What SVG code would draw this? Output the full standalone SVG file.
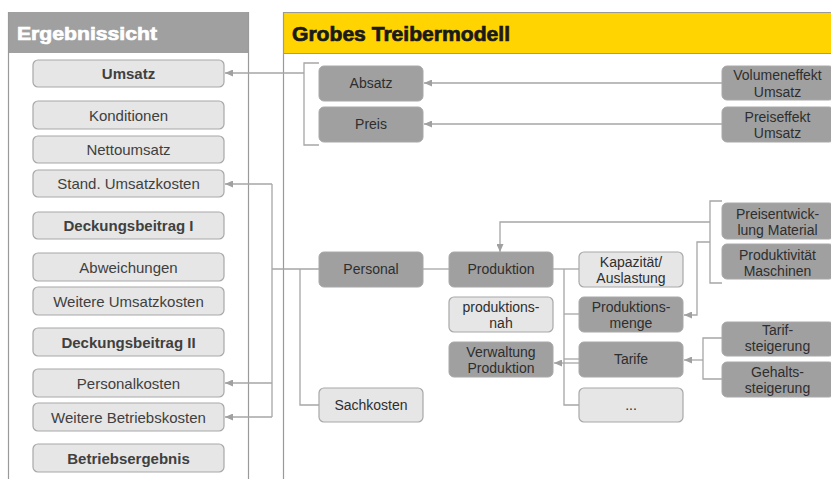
<svg xmlns="http://www.w3.org/2000/svg" width="831" height="479" viewBox="0 0 831 479">
<defs>
<style>
.pl{stroke:#9a9a9a;stroke-width:1.2;fill:none}
.lb{fill:#e6e6e6;stroke:#a8a8a8;stroke-width:1.2}
.db{fill:#a0a0a0;stroke:#a8a8a8;stroke-width:1}
.t{font-family:"Liberation Sans",Arial,sans-serif;text-anchor:middle;fill:#404040}
.l15{font-size:15px}
.s{font-size:14px;fill:#2e2e2e}
.b{font-weight:bold}
.c{stroke:#a6a6a6;stroke-width:1.3;fill:none}
.ca{stroke:#a6a6a6;stroke-width:1.3;fill:none;marker-end:url(#ah)}
.h{font-family:"Liberation Sans",Arial,sans-serif;font-weight:bold;stroke-width:0.7}
</style>
<marker id="ah" markerUnits="userSpaceOnUse" markerWidth="8" markerHeight="7" refX="8" refY="3.5" orient="auto">
<path d="M0,0 L8,3.5 L0,7 z" fill="#a0a0a0"/>
</marker>
</defs>
<rect width="831" height="479" fill="#ffffff"/>
<g id="panel-left">
<rect x="8" y="12" width="240" height="41" fill="#a0a0a0"/>
<line class="pl" x1="8.5" y1="12" x2="8.5" y2="479"/>
<line class="pl" x1="248.5" y1="12" x2="248.5" y2="479"/>
<text class="h" x="17" y="40" font-size="19" fill="#ffffff" stroke="#ffffff" textLength="140" lengthAdjust="spacingAndGlyphs">Ergebnissicht</text>
</g>
<g id="panel-right">
<rect x="283" y="12" width="548" height="41" fill="#ffd400"/>
<line class="pl" x1="283" y1="12.5" x2="831" y2="12.5"/>
<line class="pl" x1="283" y1="53.5" x2="831" y2="53.5"/>
<line class="pl" x1="283.5" y1="12" x2="283.5" y2="479"/>
<text class="h" x="292" y="41" font-size="20" fill="#1a1a1a" stroke="#1a1a1a" textLength="218" lengthAdjust="spacingAndGlyphs">Grobes Treibermodell</text>
</g>
<g id="connectors">
<path class="c" d="M319,63 H304 V145 H319"/>
<path class="ca" d="M304,73 H225"/>
<path class="ca" d="M722,83 H424"/>
<path class="ca" d="M722,124 H424"/>
<path class="c" d="M272,184 V417"/>
<path class="ca" d="M272,184 H225"/>
<path class="ca" d="M272,383 H225"/>
<path class="ca" d="M272,417 H225"/>
<path class="c" d="M272,269 H319"/>
<path class="c" d="M300,269 V405 H319"/>
<path class="c" d="M423,269 H449"/>
<path class="c" d="M553,269 H579"/>
<path class="c" d="M564,269 V405 H579"/>
<path class="c" d="M564,314 H579"/>
<path class="c" d="M564,359 H579"/>
<path class="ca" d="M579,363 H554"/>
<path class="c" d="M722,201 H710 V283 H722"/>
<path class="ca" d="M710,222 H500 V252"/>
<path class="ca" d="M710,242 H697 V315 H684"/>
<path class="c" d="M722,338 H703 V379 H722"/>
<path class="ca" d="M703,360 H684"/>
</g>
<g id="n-umsatz"><rect class="lb" x="33" y="60" width="191" height="27" rx="5"/><text class="t l15 b" x="128.5" y="79">Umsatz</text></g>
<g id="n-konditionen"><rect class="lb" x="33" y="101" width="191" height="28" rx="5"/><text class="t l15" x="128.5" y="120.5">Konditionen</text></g>
<g id="n-nettoumsatz"><rect class="lb" x="33" y="136" width="191" height="27" rx="5"/><text class="t l15" x="128.5" y="155">Nettoumsatz</text></g>
<g id="n-stand-umsatzkosten"><rect class="lb" x="33" y="170" width="191" height="27" rx="5"/><text class="t l15" x="128.5" y="189">Stand. Umsatzkosten</text></g>
<g id="n-db1"><rect class="lb" x="33" y="212" width="191" height="27" rx="5"/><text class="t l15 b" x="128.5" y="231">Deckungsbeitrag I</text></g>
<g id="n-abweichungen"><rect class="lb" x="33" y="253" width="191" height="28" rx="5"/><text class="t l15" x="128.5" y="272.5">Abweichungen</text></g>
<g id="n-weitere-umsatzkosten"><rect class="lb" x="33" y="287" width="191" height="28" rx="5"/><text class="t l15" x="128.5" y="306.5">Weitere Umsatzkosten</text></g>
<g id="n-db2"><rect class="lb" x="33" y="328" width="191" height="28" rx="5"/><text class="t l15 b" x="128.5" y="347.5">Deckungsbeitrag II</text></g>
<g id="n-personalkosten"><rect class="lb" x="33" y="369" width="191" height="28" rx="5"/><text class="t l15" x="128.5" y="388.5">Personalkosten</text></g>
<g id="n-weitere-betriebskosten"><rect class="lb" x="33" y="403" width="191" height="28" rx="5"/><text class="t l15" x="128.5" y="422.5">Weitere Betriebskosten</text></g>
<g id="n-betriebsergebnis"><rect class="lb" x="33" y="444" width="191" height="28" rx="5"/><text class="t l15 b" x="128.5" y="463.5">Betriebsergebnis</text></g>
<g id="n-absatz"><rect class="db" x="319" y="66" width="104" height="35" rx="5"/><text class="t s" x="371" y="88">Absatz</text></g>
<g id="n-preis"><rect class="db" x="319" y="107" width="104" height="35" rx="5"/><text class="t s" x="371" y="129">Preis</text></g>
<g id="n-volumeneffekt"><rect class="db" x="722" y="66" width="112" height="34" rx="5"/><text class="t s" x="777.5" y="80">Volumeneffekt</text><text class="t s" x="777.5" y="97">Umsatz</text></g>
<g id="n-preiseffekt"><rect class="db" x="722" y="107" width="112" height="35" rx="5"/><text class="t s" x="777.5" y="122">Preiseffekt</text><text class="t s" x="777.5" y="138">Umsatz</text></g>
<g id="n-personal"><rect class="db" x="319" y="252" width="104" height="35" rx="5"/><text class="t s" x="371" y="274">Personal</text></g>
<g id="n-produktion"><rect class="db" x="449" y="252" width="104" height="35" rx="5"/><text class="t s" x="501" y="274">Produktion</text></g>
<g id="n-produktionsnah"><rect class="lb" x="449" y="297" width="104" height="35" rx="5"/><text class="t s" x="501" y="312">produktions-</text><text class="t s" x="501" y="328">nah</text></g>
<g id="n-verwaltung"><rect class="db" x="449" y="342" width="104" height="35" rx="5"/><text class="t s" x="501" y="357">Verwaltung</text><text class="t s" x="501" y="373">Produktion</text></g>
<g id="n-sachkosten"><rect class="lb" x="319" y="388" width="104" height="34" rx="5"/><text class="t s" x="371" y="410">Sachkosten</text></g>
<g id="n-kapazitaet"><rect class="lb" x="579" y="252" width="104" height="35" rx="5"/><text class="t s" x="631" y="267">Kapazität/</text><text class="t s" x="631" y="283">Auslastung</text></g>
<g id="n-produktionsmenge"><rect class="db" x="579" y="297" width="104" height="35" rx="5"/><text class="t s" x="631" y="312">Produktions-</text><text class="t s" x="631" y="328">menge</text></g>
<g id="n-tarife"><rect class="db" x="579" y="342" width="104" height="35" rx="5"/><text class="t s" x="631" y="364">Tarife</text></g>
<g id="n-dots"><rect class="lb" x="579" y="388" width="104" height="34" rx="5"/><text class="t s" x="631" y="410">...</text></g>
<g id="n-preisentwicklung"><rect class="db" x="722" y="203" width="112" height="36" rx="5"/><text class="t s" x="777.5" y="219">Preisentwick-</text><text class="t s" x="777.5" y="235">lung Material</text></g>
<g id="n-produktivitaet"><rect class="db" x="722" y="244" width="112" height="35" rx="5"/><text class="t s" x="777.5" y="260">Produktivität</text><text class="t s" x="777.5" y="276">Maschinen</text></g>
<g id="n-tarifsteigerung"><rect class="db" x="722" y="322" width="112" height="34" rx="5"/><text class="t s" x="777.5" y="335">Tarif-</text><text class="t s" x="777.5" y="351">steigerung</text></g>
<g id="n-gehaltssteigerung"><rect class="db" x="722" y="362" width="112" height="35" rx="5"/><text class="t s" x="777.5" y="377">Gehalts-</text><text class="t s" x="777.5" y="393">steigerung</text></g>
</svg>
